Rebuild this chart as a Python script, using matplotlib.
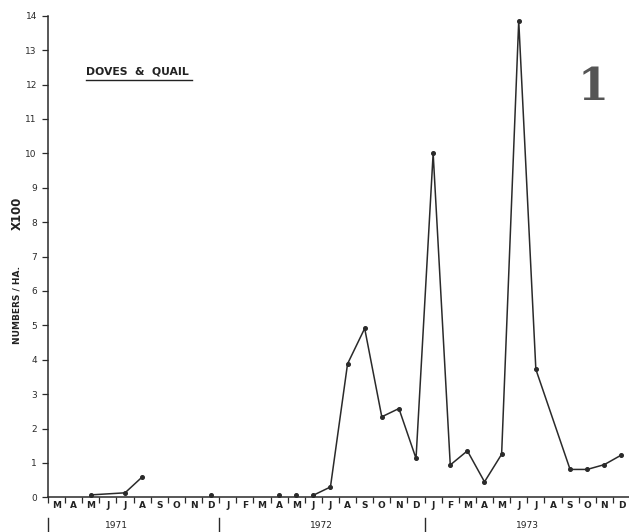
import matplotlib
matplotlib.use("Agg")
import matplotlib.pyplot as plt
import matplotlib.transforms as mtransforms
import numpy as np

# month labels, March 1971 .. December 1973
months = ["M", "A", "M", "J", "J", "A", "S", "O", "N", "D",
          "J", "F", "M", "A", "M", "J", "J", "A", "S", "O", "N", "D",
          "J", "F", "M", "A", "M", "J", "J", "A", "S", "O", "N", "D"]
years = ["1971", "1972", "1973"]
year_label_pos = [3.5, 15.5, 27.5]
year_separators = [-0.5, 9.5, 21.5]

# connected series segments: (month index, value)
seg1_idx = [2, 4, 5]
seg1_val = [0.07, 0.13, 0.59]
isolated_idx = [9, 13, 14]
isolated_val = [0.06, 0.06, 0.06]
seg2_idx = [15, 16, 17, 18, 19, 20, 21, 22, 23, 24, 25, 26, 27, 28, 30, 31, 32, 33]
seg2_val = [0.06, 0.30, 3.88, 4.91, 2.34, 2.58, 1.13, 10.0, 0.94, 1.35,
            0.45, 1.25, 13.85, 3.72, 0.81, 0.81, 0.95, 1.23]

yticks = list(range(0, 15))

fig = plt.figure(figsize=(6.29, 5.32), dpi=100)
ax = fig.add_axes([48 / 629, (532 - 497.3) / 532, 582 / 629, 481.6 / 532])

lc = "#2a2a2a"
for xs, ys in [(seg1_idx, seg1_val), (seg2_idx, seg2_val)]:
    ax.plot(xs, ys, color=lc, lw=1.1, marker="o", ms=2.6, clip_on=False)
ax.plot(isolated_idx, isolated_val, ls="none", color=lc, marker="o", ms=2.6, clip_on=False)

ax.set_xlim(-0.5, 33.5)
ax.set_ylim(0, 14)
for s in ["top", "right"]:
    ax.spines[s].set_visible(False)
for s in ["left", "bottom"]:
    ax.spines[s].set_color(lc)
    ax.spines[s].set_linewidth(1.1)

ax.set_yticks(yticks)
ax.set_yticklabels([str(v) for v in yticks], fontsize=6.5, color="#222")
ax.tick_params(axis="y", direction="out", length=4, width=0.9, pad=4, colors=lc)

ax.set_xticks(np.arange(len(months)))
ax.set_xticklabels(months, fontsize=6.5, fontweight="bold", color="#222")
ax.set_xticks(np.arange(len(months) + 1) - 0.5, minor=True)
ax.tick_params(axis="x", which="major", length=0, pad=2.5)
ax.tick_params(axis="x", which="minor", direction="out", length=4, width=0.9, colors=lc)

trans = mtransforms.blended_transform_factory(ax.transData, ax.transAxes)
for xs in year_separators:
    ax.plot([xs, xs], [-0.043, -0.072], transform=trans, color=lc, lw=1.0, clip_on=False)
for lab, xp in zip(years, year_label_pos):
    ax.text(xp, -0.058, lab, transform=trans, fontsize=6.5, ha="center", va="center", color="#222")

# y axis label
fig.text(17 / 629, 1 - 305 / 532, "NUMBERS / HA.", rotation=90, fontsize=6.5,
         fontweight="bold", ha="center", va="center", color="#222")
fig.text(17 / 629, 1 - 213 / 532, "X100", rotation=90, fontsize=8.5,
         fontweight="bold", ha="center", va="center", color="#222")

# title with underline
fig.text(86 / 629, 1 - 72 / 532, "DOVES  &  QUAIL", fontsize=7.8, fontweight="bold",
         ha="left", va="center", color="#222")
fig.add_artist(plt.Line2D([86 / 629, 192 / 629], [1 - 79.5 / 532, 1 - 79.5 / 532],
                          color="#222", lw=1.0))

# panel number
fig.text(593 / 629, 1 - 87 / 532, "1", fontsize=32, fontweight="bold", family="DejaVu Serif",
         ha="center", va="center", color="#555")

fig.savefig("out.png", dpi=100)
